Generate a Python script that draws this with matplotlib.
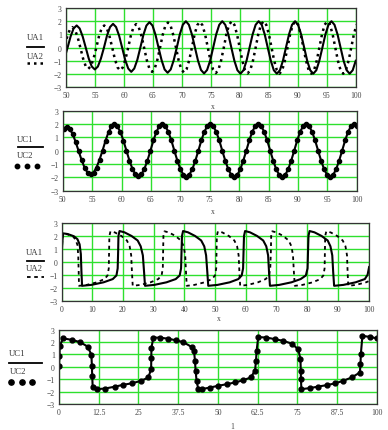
import matplotlib.pyplot as plt
from matplotlib.lines import Line2D

# panel 1: UA1 (solid) and UA2 (dotted), x 50..100
ua1_x = [49.74, 50.27, 50.79, 51.31, 51.84, 52.36, 52.88, 53.41, 53.93, 54.45,
         54.98, 55.50, 56.02, 56.55, 57.07, 57.60, 58.12, 58.64, 59.17, 59.69,
         60.21, 60.74, 61.26, 61.78, 62.31, 62.83, 63.36, 63.88, 64.40, 64.93,
         65.45, 65.97, 66.50, 67.02, 67.54, 68.07, 68.59, 69.12, 69.64, 70.16,
         70.69, 71.21, 71.73, 72.26, 72.78, 73.30, 73.83, 74.35, 74.88, 75.40,
         75.92, 76.45, 76.97, 77.49, 78.02, 78.54, 79.06, 79.59, 80.11, 80.63,
         81.16, 81.68, 82.21, 82.73, 83.25, 83.78, 84.30, 84.82, 85.35, 85.87,
         86.39, 86.92, 87.44, 87.96, 88.49, 89.01, 89.54, 90.06, 90.58, 91.11,
         91.63, 92.15, 92.68, 93.20, 93.72, 94.25, 94.77, 95.30, 95.82, 96.34,
         96.87, 97.39, 97.91, 98.44, 98.96, 99.48, 100.01]
ua1_y = [-0.80, 0,
         0.84, 1.45, 1.68, 1.45, 0.84, 0,
         -0.83, -1.43, -1.65, -1.43, -0.83, 0,
         0.90, 1.56, 1.80, 1.56, 0.90, 0,
         -0.92, -1.58, -1.83, -1.58, -0.92, 0,
         0.97, 1.67, 1.93, 1.67, 0.97, 0,
         -0.95, -1.65, -1.90, -1.65, -0.95, 0,
         1.00, 1.73, 2.00, 1.73, 1.00, 0,
         -0.98, -1.69, -1.95, -1.69, -0.98, 0,
         1.00, 1.73, 2.00, 1.73, 1.00, 0,
         -0.99, -1.71, -1.97, -1.71, -0.99, 0,
         1.00, 1.73, 2.00, 1.73, 1.00, 0,
         -0.99, -1.71, -1.97, -1.71, -0.99, 0,
         1.00, 1.73, 2.00, 1.73, 1.00, 0,
         -0.99, -1.71, -1.97, -1.71, -0.99, 0,
         1.00, 1.73, 2.00, 1.73, 1.00, 0,
         -0.99, -1.71, -1.97, -1.71, -0.99]

ua2_x = [49.27, 49.73, 50.18, 50.64, 51.10, 51.56, 52.02, 52.48, 52.93, 53.39,
         53.85, 54.31, 54.77, 55.23, 55.68, 56.14, 56.60, 57.06, 57.52, 57.98,
         58.43, 58.89, 59.35, 59.81, 60.27, 60.73, 61.18, 61.64, 62.10, 62.56,
         63.02, 63.48, 63.93, 64.39, 64.85, 65.31, 65.77, 66.23, 66.68, 67.14,
         67.60, 68.06, 68.52, 68.98, 69.43, 69.89, 70.35, 70.81, 71.27, 71.73,
         72.18, 72.64, 73.10, 73.56, 74.02, 74.48, 74.93, 75.39, 75.85, 76.31,
         76.77, 77.23, 77.68, 78.14, 78.60, 79.06, 79.52, 79.98, 80.43, 80.89,
         81.35, 81.81, 82.27, 82.73, 83.18, 83.64, 84.10, 84.56, 85.02, 85.48,
         85.93, 86.39, 86.85, 87.31, 87.77, 88.23, 88.68, 89.14, 89.60, 90.06,
         90.52, 90.98, 91.43, 91.89, 92.35, 92.81, 93.27, 93.73, 94.18, 94.64,
         95.10, 95.56, 96.02, 96.48, 96.93, 97.39, 97.85, 98.31, 98.77, 99.23,
         99.68, 100.14]
ua2_y = [-0.75, 0,
         0.78, 1.34, 1.55, 1.34, 0.78, 0,
         -0.80, -1.39, -1.60, -1.39, -0.80, 0,
         0.84, 1.45, 1.68, 1.45, 0.84, 0,
         -0.86, -1.49, -1.72, -1.49, -0.86, 0,
         0.89, 1.54, 1.78, 1.54, 0.89, 0,
         -0.92, -1.58, -1.83, -1.58, -0.92, 0,
         0.95, 1.65, 1.90, 1.65, 0.95, 0,
         -0.94, -1.63, -1.88, -1.63, -0.94, 0,
         0.98, 1.69, 1.95, 1.69, 0.98, 0,
         -0.97, -1.67, -1.93, -1.67, -0.97, 0,
         1.00, 1.73, 2.00, 1.73, 1.00, 0,
         -0.98, -1.69, -1.95, -1.69, -0.98, 0,
         1.00, 1.73, 2.00, 1.73, 1.00, 0,
         -0.99, -1.71, -1.97, -1.71, -0.99, 0,
         1.00, 1.73, 2.00, 1.73, 1.00, 0,
         -0.99, -1.71, -1.97, -1.71, -0.99, 0,
         1.00, 1.73, 2.00, 1.73, 1.00, 0,
         -0.99, -1.71, -1.97, -1.71, -0.99, 0,
         1.00, 1.73]

# panel 2: UC1 (solid) and UC2 (dots), same samples
uc_x = [50.14,
        50.65, 51.16, 51.67, 52.18, 52.69, 53.20, 53.71, 54.22,
        54.73, 55.24, 55.75, 56.26, 56.77, 57.28, 57.79, 58.29,
        58.80, 59.31, 59.82, 60.33, 60.84, 61.35, 61.86, 62.37,
        62.88, 63.39, 63.90, 64.41, 64.92, 65.43, 65.93, 66.44,
        66.95, 67.46, 67.97, 68.48, 68.99, 69.50, 70.01, 70.52,
        71.03, 71.54, 72.05, 72.56, 73.07, 73.58, 74.08, 74.59,
        75.10, 75.61, 76.12, 76.63, 77.14, 77.65, 78.16, 78.67,
        79.18, 79.69, 80.20, 80.71, 81.22, 81.73, 82.23, 82.74,
        83.25, 83.76, 84.27, 84.78, 85.29, 85.80, 86.31, 86.82,
        87.33, 87.84, 88.35, 88.86, 89.37, 89.88, 90.38, 90.89,
        91.40, 91.91, 92.42, 92.93, 93.44, 93.95, 94.46, 94.97,
        95.48, 95.99, 96.50, 97.01, 97.52, 98.03, 98.53, 99.04,
        99.55, 100.06]
uc1_y = [1.66,
         1.80, 1.66, 1.27, 0.69, 0, -0.68, -1.26, -1.64,
         -1.78, -1.64, -1.26, -0.68, 0, 0.75, 1.39, 1.82,
         1.97, 1.82, 1.39, 0.75, 0, -0.74, -1.36, -1.78,
         -1.93, -1.78, -1.36, -0.74, 0, 0.77, 1.41, 1.85,
         2.00, 1.85, 1.41, 0.77, 0, -0.75, -1.38, -1.80,
         -1.95, -1.80, -1.38, -0.75, 0, 0.77, 1.41, 1.85,
         2.00, 1.85, 1.41, 0.77, 0, -0.75, -1.39, -1.82,
         -1.97, -1.82, -1.39, -0.75, 0, 0.77, 1.41, 1.85,
         2.00, 1.85, 1.41, 0.77, 0, -0.75, -1.39, -1.82,
         -1.97, -1.82, -1.39, -0.75, 0, 0.77, 1.41, 1.85,
         2.00, 1.85, 1.41, 0.77, 0, -0.75, -1.39, -1.82,
         -1.97, -1.82, -1.39, -0.75, 0, 0.77, 1.41, 1.85,
         2.00, 1.85]
uc2_y = list(uc1_y)

# panel 3: UA1 (solid) and UA2 (dashed), x 0..100
ra1_x = [0, 0.25, 0.5, 2.0, 4.0, 5.2, 5.9, 6.3, 6.5, 6.7,
         9.7, 13.7, 16.7, 17.9, 18.3, 18.45, 18.55,
         18.9, 20.5, 22.8, 24.8, 25.8, 26.5, 26.9, 27.2,
         30.2, 34.2, 37.2, 38.5, 38.95, 39.1, 39.25,
         39.6, 41.2, 43.5, 45.5, 46.5, 47.1, 47.5, 47.8,
         50.8, 54.8, 57.6, 58.7, 59.15, 59.3, 59.45,
         59.8, 61.4, 63.7, 65.7, 66.7, 67.3, 67.6, 67.9,
         70.9, 74.9, 77.9, 79.6, 80.15, 80.3, 80.45,
         80.8, 82.4, 84.7, 86.7, 87.6, 88.2, 88.5, 88.8,
         91.8, 95.8, 98.8, 99.7, 100.2]
ra1_y = [0.2, 1.5, 2.2, 2.15, 1.98, 1.75, 1.35, 0.6, -0.8, -1.85,
         -1.78, -1.58, -1.33, -1.05, -0.5, 0.8, 2.0,
         2.38, 2.28, 2.0, 1.65, 1.2, 0.5, -0.8, -1.85,
         -1.78, -1.58, -1.33, -1.05, -0.5, 0.8, 2.0,
         2.38, 2.28, 2.0, 1.65, 1.2, 0.5, -0.8, -1.85,
         -1.78, -1.58, -1.33, -1.05, -0.5, 0.8, 2.0,
         2.38, 2.28, 2.0, 1.65, 1.2, 0.5, -0.8, -1.85,
         -1.78, -1.58, -1.33, -1.05, -0.5, 0.8, 2.0,
         2.38, 2.28, 2.0, 1.65, 1.2, 0.5, -0.8, -1.85,
         -1.78, -1.58, -1.33, -1.0, -0.4]

ra2_x = [0, 0.25, 0.5, 2.0, 3.8, 4.6, 5.2, 5.45, 5.6, 5.7,
         8.2, 11.5, 14.0, 15.0, 15.4, 15.5, 15.6,
         15.95, 17.4, 19.5, 21.3, 22.2, 22.7, 22.95, 23.2,
         25.7, 29.0, 31.5, 32.6, 33.0, 33.1, 33.2,
         33.55, 35.0, 37.1, 38.9, 39.8, 40.3, 40.55, 40.8,
         43.3, 46.6, 49.0, 50.0, 50.4, 50.5, 50.6,
         50.95, 52.4, 54.5, 56.3, 57.2, 57.7, 57.95, 58.2,
         60.7, 64.0, 66.5, 67.6, 68.0, 68.2, 68.3,
         68.65, 70.1, 72.2, 74.0, 74.9, 75.4, 75.7, 76.0,
         78.5, 81.8, 84.3, 85.3, 85.7, 85.8, 85.9,
         86.25, 87.7, 89.8, 91.6, 92.5, 93.0, 93.2, 93.4,
         95.9, 99.2, 100.0]
ra2_y = [0.2, 1.5, 2.2, 2.12, 1.95, 1.7, 1.3, 0.5, -0.8, -1.85,
         -1.78, -1.58, -1.33, -1.05, -0.5, 0.8, 2.0,
         2.36, 2.27, 2.0, 1.65, 1.2, 0.5, -0.8, -1.85,
         -1.78, -1.58, -1.33, -1.05, -0.5, 0.8, 2.0,
         2.36, 2.27, 2.0, 1.65, 1.2, 0.5, -0.8, -1.85,
         -1.78, -1.58, -1.33, -1.05, -0.5, 0.8, 2.0,
         2.36, 2.27, 2.0, 1.65, 1.2, 0.5, -0.8, -1.85,
         -1.78, -1.58, -1.33, -1.05, -0.5, 0.8, 2.0,
         2.36, 2.27, 2.0, 1.65, 1.2, 0.5, -0.8, -1.85,
         -1.78, -1.58, -1.33, -1.05, -0.5, 0.8, 2.0,
         2.36, 2.27, 2.0, 1.65, 1.2, 0.5, -0.8, -1.85,
         -1.78, -1.58, -1.5]

# panel 4: UC1 (solid) and UC2 (dots), adaptive samples
rc_x = [0.0, 0.15, 0.25, 1.3, 4.0, 6.6, 9.0, 10.2, 10.35, 10.45, 10.6,
        11.9, 14.5, 17.6, 20.2, 23.1, 25.8, 28.1, 29.0, 29.05, 29.1, 29.7,
        31.8, 34.4, 36.7, 39.1, 41.8, 42.5, 42.8, 43.0, 43.3, 43.8,
        44.9, 47.5, 50.1, 52.8, 55.4, 58.0, 60.3, 61.7, 62.0, 62.2, 62.7,
        65.3, 68.0, 70.6, 73.2, 75.3, 76.0, 76.1, 76.15, 76.3,
        78.9, 81.6, 84.2, 86.8, 89.4, 92.1, 94.7, 94.9, 95.0, 95.5,
        97.9, 100.0]
rc1_y = [0.05, 0.9, 1.7, 2.3, 2.18, 2.0, 1.64, 0.98, 0.08, -0.73, -1.6,
         -1.8, -1.75, -1.6, -1.45, -1.32, -1.13, -0.86, -0.19, 0.75, 1.56, 2.36,
         2.36, 2.27, 2.15, 2.0, 1.6, 1.29, 0.48, -0.32, -1.13, -1.75,
         -1.8, -1.67, -1.53, -1.4, -1.26, -1.08, -0.86, -0.32, 0.48, 1.29, 2.4,
         2.37, 2.23, 2.1, 1.88, 1.42, 0.62, -0.32, -1.0, -1.8,
         -1.72, -1.59, -1.48, -1.34, -1.13, -0.86, -0.46, 0.2, 1.0, 2.5,
         2.42, 2.3]
rc2_y = list(rc1_y)

W, H = 388, 431
GREEN = '#2ee02e'
FONT = 'Liberation Serif'


def fpos(x, y):
    return x / W, 1 - y / H


def make_axes(fig, left, top, right, bottom, xlim, xticks, xlabels):
    ax = fig.add_axes([left / W, 1 - bottom / H, (right - left) / W, (bottom - top) / H])
    ax.set_xlim(*xlim)
    ax.set_ylim(-3, 3)
    ax.set_xticks(xticks)
    ax.set_xticklabels(xlabels)
    ax.set_yticks([-3, -2, -1, 0, 1, 2, 3])
    ax.set_yticklabels(['\u22123', '\u22122', '\u22121', '0', '1', '2', '3'])
    ax.grid(True, color=GREEN, linewidth=1.0)
    ax.set_axisbelow(True)
    ax.tick_params(length=0, pad=3, labelsize=5.5, labelcolor='#444')
    for lab in ax.get_xticklabels() + ax.get_yticklabels():
        lab.set_fontfamily(FONT)
    for sp in ax.spines.values():
        sp.set_color('#333')
        sp.set_linewidth(0.9)
    return ax


def legend_text(fig, x, y, s):
    fig.text(*fpos(x, y), s, ha='center', va='center', fontsize=6.3,
             family=FONT, color='#333')


def legend_line(fig, x0, x1, y, **kw):
    a, b = fpos(x0, y)
    c, _ = fpos(x1, y)
    fig.add_artist(Line2D([a, c], [b, b], color='black', **kw))


def put_plot():
    fig = plt.figure(figsize=(W / 100, H / 100), dpi=100)

    # panel 1
    ax1 = make_axes(fig, 66, 9, 355.7, 88.3, (50, 100), range(50, 101, 5),
                    [str(v) for v in range(50, 101, 5)])
    ax1.plot(ua1_x, ua1_y, color='black', linewidth=1.5)
    ax1.plot(ua2_x, ua2_y, color='black', linewidth=1.8, linestyle=(0, (1, 1.6)))
    legend_text(fig, 35, 38, 'UA1')
    legend_line(fig, 27, 44, 48, linewidth=1.3)
    legend_text(fig, 35, 57, 'UA2')
    legend_line(fig, 27, 44, 64, linewidth=1.8, linestyle=(0, (1, 1.6)))
    fig.text(*fpos(213, 107), 'x', ha='center', va='center', fontsize=5.5,
             family=FONT, color='#444')

    # panel 2
    ax2 = make_axes(fig, 62.7, 111.7, 356.7, 191.7, (50, 100), range(50, 101, 5),
                    [str(v) for v in range(50, 101, 5)])
    ax2.plot(uc_x, uc1_y, color='black', linewidth=1.5)
    ax2.plot(uc_x, uc2_y, color='black', linestyle='none', marker='o', markersize=3.0)
    legend_text(fig, 25, 139.5, 'UC1')
    legend_line(fig, 18, 43, 148, linewidth=1.3)
    legend_text(fig, 25, 155.5, 'UC2')
    for lx in (17, 27, 37):
        a, b = fpos(lx, 167.3)
        fig.add_artist(Line2D([a], [b], color='black', marker='o', markersize=3.2,
                              linestyle='none'))
    fig.text(*fpos(213, 212), 'x', ha='center', va='center', fontsize=5.5,
             family=FONT, color='#444')

    # panel 3
    ax3 = make_axes(fig, 61.5, 224, 368.5, 301.7, (0, 100), range(0, 101, 10),
                    [str(v) for v in range(0, 101, 10)])
    ax3.plot(ra1_x, ra1_y, color='black', linewidth=1.5)
    ax3.plot(ra2_x, ra2_y, color='black', linewidth=1.3, linestyle=(0, (2, 2)))
    legend_text(fig, 34.5, 253, 'UA1')
    legend_line(fig, 27, 44, 262, linewidth=1.3)
    legend_text(fig, 34.5, 269.5, 'UA2')
    legend_line(fig, 27, 44, 278.3, linewidth=1.3, linestyle=(0, (2, 2)))
    fig.text(*fpos(219, 319), 'x', ha='center', va='center', fontsize=5.5,
             family=FONT, color='#444')

    # panel 4
    ticks4 = [0, 12.5, 25, 37.5, 50, 62.5, 75, 87.5, 100]
    ax4 = make_axes(fig, 59, 330.7, 376.7, 405, (0, 100), ticks4,
                    ['0', '12.5', '25', '37.5', '50', '62.5', '75', '87.5', '100'])
    ax4.plot(rc_x, rc1_y, color='black', linewidth=1.5)
    ax4.plot(rc_x, rc2_y, color='black', linestyle='none', marker='o', markersize=3.5)
    legend_text(fig, 17.5, 354.5, 'UC1')
    legend_line(fig, 9, 42, 364.3, linewidth=1.3)
    legend_text(fig, 18, 372, 'UC2')
    for lx in (10.7, 21.7, 32.3):
        a, b = fpos(lx, 382.7)
        fig.add_artist(Line2D([a], [b], color='black', marker='o', markersize=3.8,
                              linestyle='none'))
    fig.text(*fpos(232, 427), '1', ha='center', va='center', fontsize=5.5,
             family=FONT, color='#444')

    plt.savefig('out.png', dpi=100)


if __name__ == "__main__":
    put_plot()
